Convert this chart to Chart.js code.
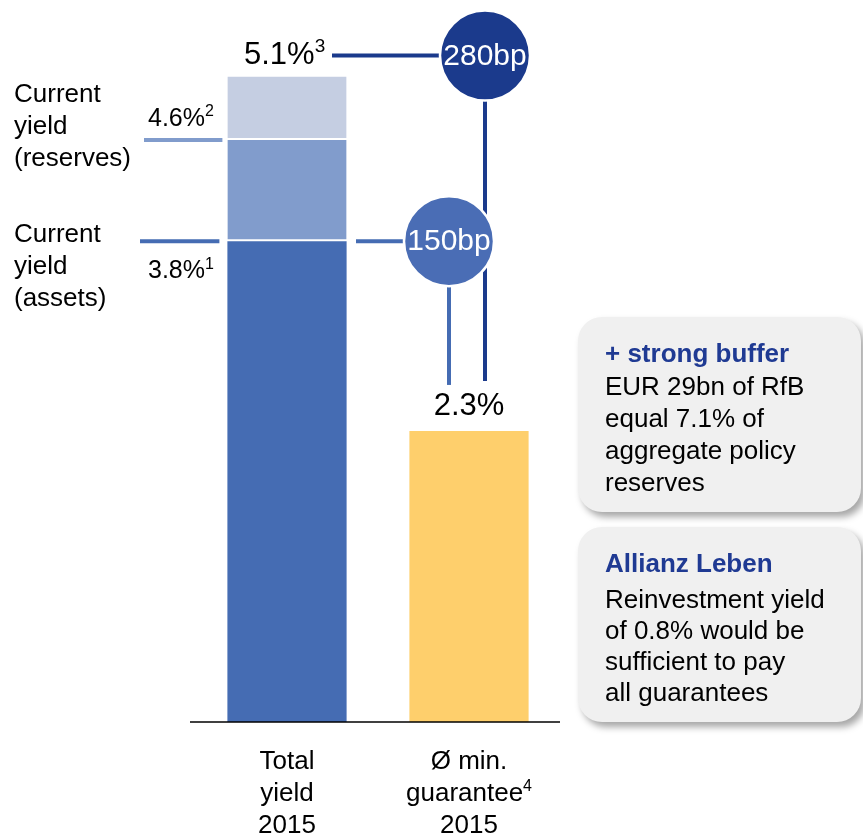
<!DOCTYPE html>
<html>
<head>
<meta charset="utf-8">
<title>Total yield vs. minimum guarantee 2015</title>
<script src="https://cdn.jsdelivr.net/npm/chart.js@4.4.1/dist/chart.umd.min.js"></script>
<style>
  html, body { margin: 0; padding: 0; background: #fff; }
  #wrap { width: 863px; height: 836px; }
</style>
</head>
<body>
<div id="wrap"><canvas id="yieldChart" width="863" height="836"></canvas></div>
<script>
// values
const categories = [['Total', 'yield', '2015'], ['Ø min.', 'guarantee', '2015']];
const categoryNotes = ['', '4'];
const assetsYield = [3.8, null];     // current yield (assets)
const reservesYield = [0.8, null];   // on top -> 4.6 current yield (reserves)
const totalExtra = [0.5, null];      // on top -> 5.1 total yield
const minGuarantee = [null, 2.3];
const spreadsBp = [280, 150];
const boxTitles = ['+ strong buffer', 'Allianz Leben'];
const boxLines = [
    ['EUR 29bn of RfB', 'equal 7.1% of', 'aggregate policy', 'reserves'],
    ['Reinvestment yield', 'of 0.8% would be', 'sufficient to pay', 'all guarantees']
];

const FONT = '"Liberation Sans", Arial, Helvetica, sans-serif';
const NAVY = '#1b3a8c';
const BLUE = '#456cb3';
const MID = '#819ccc';
const LIGHT = '#c5cee2';
const YELLOW = '#fecf6c';
const TITLE = '#1f3a93';

function font(size, bold) {
    return (bold ? 'bold ' : '') + size + 'px ' + FONT;
}

function supWidth(ctx, txt, sup, size) {
    ctx.font = font(size);
    let w = ctx.measureText(txt).width;
    if (sup) {
        ctx.font = font(Math.round(size * 0.62));
        w += ctx.measureText(sup).width;
    }
    return w;
}

// text with a raised footnote number, x is the left edge
function supText(ctx, txt, sup, x, y, size, color) {
    ctx.fillStyle = color || '#000';
    ctx.textAlign = 'left';
    ctx.textBaseline = 'middle';
    ctx.font = font(size);
    ctx.fillText(txt, x, y);
    if (sup) {
        const w = ctx.measureText(txt).width;
        ctx.font = font(Math.round(size * 0.62));
        ctx.fillText(sup, x + w, y - size * 0.28);
    }
}

function supCentered(ctx, txt, sup, cx, y, size) {
    supText(ctx, txt, sup, cx - supWidth(ctx, txt, sup, size) / 2, y, size);
}

function line(ctx, xa, ya, xb, yb, color) {
    ctx.save();
    ctx.strokeStyle = color;
    ctx.lineWidth = 4;
    ctx.beginPath();
    ctx.moveTo(xa, ya);
    ctx.lineTo(xb, yb);
    ctx.stroke();
    ctx.restore();
}

function bubble(ctx, x, y, r, color, txt) {
    ctx.save();
    ctx.beginPath();
    ctx.arc(x, y, r, 0, Math.PI * 2);
    ctx.fillStyle = color;
    ctx.fill();
    ctx.lineWidth = 2.5;
    ctx.strokeStyle = '#fff';
    ctx.stroke();
    ctx.fillStyle = '#fff';
    ctx.font = font(30);
    ctx.textAlign = 'center';
    ctx.textBaseline = 'middle';
    ctx.fillText(txt, x, y + 1);
    ctx.restore();
}

function roundBox(ctx, x, y, w, h, r) {
    ctx.save();
    ctx.shadowColor = 'rgba(0,0,0,0.35)';
    ctx.shadowBlur = 7;
    ctx.shadowOffsetX = 4;
    ctx.shadowOffsetY = 5;
    ctx.beginPath();
    ctx.moveTo(x + r, y);
    ctx.lineTo(x + w - r, y);
    ctx.arcTo(x + w, y, x + w, y + r, r);
    ctx.lineTo(x + w, y + h - r);
    ctx.arcTo(x + w, y + h, x + w - r, y + h, r);
    ctx.lineTo(x + r, y + h);
    ctx.arcTo(x, y + h, x, y + h - r, r);
    ctx.lineTo(x, y + r);
    ctx.arcTo(x, y, x + r, y, r);
    ctx.closePath();
    ctx.fillStyle = '#f0f0f0';
    ctx.fill();
    ctx.restore();
}

const annotations = {
    id: 'annotations',
    afterDatasetsDraw(chart) {
        const ctx = chart.ctx;
        const xs = chart.scales.x, ys = chart.scales.y;
        const x1 = xs.getPixelForValue(0), x2 = xs.getPixelForValue(1);
        const y0 = ys.getPixelForValue(0);
        const reserves = assetsYield[0] + reservesYield[0];
        const total = reserves + totalExtra[0];
        const yAssets = ys.getPixelForValue(assetsYield[0]);
        const yReserves = ys.getPixelForValue(reserves);
        const yTotal = ys.getPixelForValue(total);
        const yGuar = ys.getPixelForValue(minGuarantee[1]);
        const yTop = yTotal - 21;
        const bar = chart.getDatasetMeta(0).data[0];
        const barLeft = bar.x - bar.width / 2;

        // baseline
        ctx.save();
        ctx.strokeStyle = '#000';
        ctx.lineWidth = 1.5;
        ctx.beginPath();
        ctx.moveTo(chart.chartArea.left - 6, y0);
        ctx.lineTo(chart.chartArea.right, y0);
        ctx.stroke();
        ctx.restore();

        // connector lines
        const c280 = { x: x2 + 16, y: yTop };
        const c150 = { x: x2 - 20, y: yAssets };
        line(ctx, x1 + 45, yTop, c280.x, yTop, NAVY);
        line(ctx, c280.x, yTop, c280.x, yGuar - 50, NAVY);
        line(ctx, x1 + 69, yAssets, c150.x, yAssets, BLUE);
        line(ctx, c150.x, yAssets, c150.x, yGuar - 46, BLUE);
        line(ctx, 144, yReserves, barLeft - 5, yReserves, MID);
        line(ctx, 140, yAssets, barLeft - 8, yAssets, BLUE);

        bubble(ctx, c280.x, c280.y, 45, NAVY, spreadsBp[0] + 'bp');
        bubble(ctx, c150.x, c150.y, 45, '#4a6db5', spreadsBp[1] + 'bp');

        // value labels
        supText(ctx, total.toFixed(1) + '%', '3', x1 - 43, yTop, 31);
        supText(ctx, reserves.toFixed(1) + '%', '2', 148, yReserves - 21, 25);
        supText(ctx, assetsYield[0].toFixed(1) + '%', '1', 148, yAssets + 30, 25);
        supCentered(ctx, minGuarantee[1].toFixed(1) + '%', '', x2, yGuar - 24, 31);

        // left side captions
        ['Current', 'yield', '(reserves)'].forEach((t, i) => supText(ctx, t, '', 14, yReserves - 45 + i * 32, 26));
        ['Current', 'yield', '(assets)'].forEach((t, i) => supText(ctx, t, '', 14, yAssets - 6 + i * 32, 26));

        // category labels
        categories.forEach((lines, c) => {
            const cx = xs.getPixelForValue(c);
            lines.forEach((t, i) => {
                const note = (i === 1) ? categoryNotes[c] : '';
                supCentered(ctx, t, note, cx, y0 + 40 + i * 32, 26);
            });
        });

        // comment boxes
        const boxTops = [317, 527];
        const firstLine = [71, 74];
        const boxSteps = [32, 31];
        boxTops.forEach((top, b) => {
            roundBox(ctx, 578, top, 283, 195, 24);
            ctx.textAlign = 'left';
            ctx.textBaseline = 'middle';
            ctx.font = font(26, true);
            ctx.fillStyle = TITLE;
            ctx.fillText(boxTitles[b], 605, top + 38);
            ctx.font = font(26);
            ctx.fillStyle = '#000';
            boxLines[b].forEach((t, i) => {
                ctx.fillText(t, 605, top + firstLine[b] + i * boxSteps[b]);
            });
        });
    }
};

new Chart(document.getElementById('yieldChart'), {
    type: 'bar',
    data: {
        labels: categories.map(c => c.join(' ')),
        datasets: [
            { label: 'Current yield (assets)', data: assetsYield, backgroundColor: BLUE, borderWidth: 0 },
            { label: 'Current yield (reserves)', data: reservesYield, backgroundColor: MID,
              borderColor: '#fff', borderWidth: { top: 0, right: 0, bottom: 2, left: 0 }, borderSkipped: false },
            { label: 'Total yield', data: totalExtra, backgroundColor: LIGHT,
              borderColor: '#fff', borderWidth: { top: 0, right: 0, bottom: 2, left: 0 }, borderSkipped: false },
            { label: 'Min. guarantee', data: minGuarantee, backgroundColor: YELLOW, borderWidth: 0 }
        ]
    },
    options: {
        responsive: false,
        animation: false,
        devicePixelRatio: 1,
        layout: { padding: { left: 196, right: 303, top: 26, bottom: 114 } },
        datasets: { bar: { categoryPercentage: 0.655, barPercentage: 1 } },
        plugins: { legend: { display: false }, tooltip: { enabled: false } },
        scales: {
            x: { stacked: true, display: false },
            y: { stacked: true, display: false, min: 0, max: 5.5 }
        }
    },
    plugins: [annotations]
});
</script>
</body>
</html>
